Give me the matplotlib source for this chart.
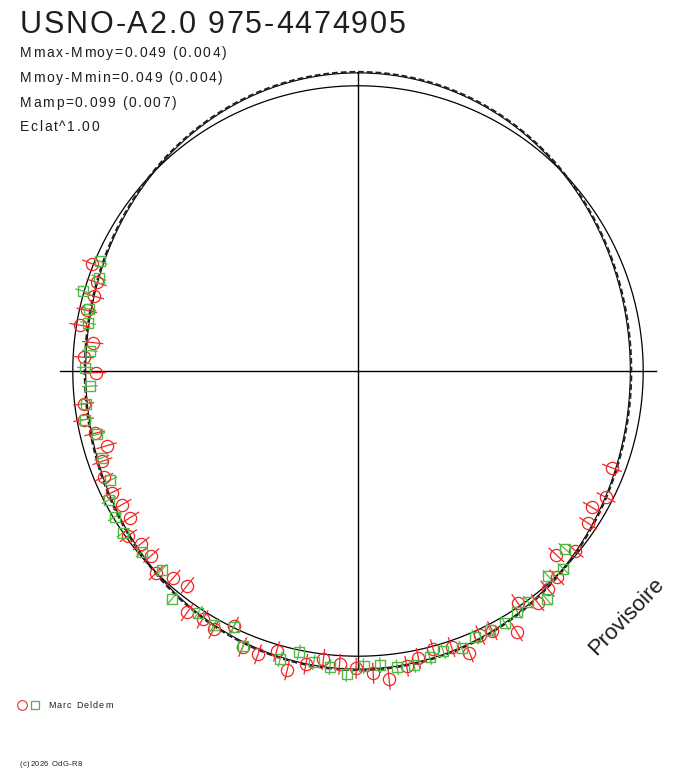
import numpy as np
import matplotlib
matplotlib.use('Agg')
import matplotlib.pyplot as plt
from matplotlib.font_manager import FontProperties

plt.rcParams['font.family'] = ['Liberation Sans', 'DejaVu Sans']

title = 'USNO-A2.0 975-4474905'
info_lines = ['Mmax-Mmoy=0.049 (0.004)', 'Mmoy-Mmin=0.049 (0.004)',
              'Mamp=0.099 (0.007)', 'Eclat^1.00']
observer = 'Marc Deldem'
credit = '(c)2026 OdG-R8'
stamp = 'Provisoire'

# phase (0..1, clockwise from top) and magnitude offset from mean
red_phase = [0.811, 0.802, 0.794, 0.785, 0.776, 0.767, 0.758, 0.749, 0.731, 0.722,
             0.713, 0.704, 0.696, 0.687, 0.677, 0.668, 0.659, 0.651, 0.643, 0.634,
             0.625, 0.616, 0.607, 0.598, 0.589, 0.581, 0.572, 0.563, 0.554, 0.545,
             0.537, 0.528, 0.519, 0.510, 0.501, 0.492, 0.484, 0.474, 0.467, 0.458,
             0.448, 0.440, 0.431, 0.424, 0.413, 0.404, 0.395, 0.386, 0.378, 0.369,
             0.360, 0.343, 0.334, 0.325, 0.308]
red_dmag = [0.006, -0.035, -0.041, -0.028, -0.013, -0.070, -0.040, -0.087, -0.034, -0.025,
            -0.056, -0.087, -0.054, -0.036, -0.040, -0.054, -0.054, -0.010, -0.031, -0.031,
            0.000, -0.030, -0.042, 0.040, 0.030, 0.040, -0.005, 0.053, 0.058, 0.026,
            0.084, 0.048, 0.020, 0.033, 0.046, 0.066, 0.094, 0.053, 0.032, 0.012,
            0.024, 0.067, 0.022, 0.027, 0.078, -0.014, 0.030, 0.013, 0.005, -0.056,
            -0.012, -0.035, -0.054, -0.026, -0.051]
red_err = 0.040

green_phase = [0.814, 0.805, 0.795, 0.786, 0.778, 0.762, 0.752, 0.741, 0.731, 0.722,
               0.712, 0.698, 0.684, 0.674, 0.664, 0.654, 0.639, 0.624, 0.609, 0.593,
               0.582, 0.572, 0.563, 0.542, 0.533, 0.524, 0.515, 0.506, 0.497, 0.488,
               0.479, 0.470, 0.461, 0.453, 0.443, 0.434, 0.425, 0.416, 0.407, 0.399,
               0.390, 0.381, 0.372, 0.363]
green_dmag = [-0.019, -0.037, 0.005, -0.034, -0.042, -0.062, -0.046, -0.063, -0.042, -0.030,
              -0.065, -0.056, -0.054, -0.017, -0.006, 0.000, -0.012, -0.022, 0.033, 0.017,
              0.025, -0.002, 0.048, 0.051, 0.008, 0.036, 0.047, 0.069, 0.038, 0.037,
              0.052, 0.054, 0.037, 0.030, 0.041, 0.021, 0.022, 0.026, 0.014, 0.007,
              0.042, -0.021, 0.000, -0.049]
green_err = 0.030

half_amp = 0.049   # Mmax-Mmoy
r_center = -1.084  # magnitude offset mapped to the centre of the plot
r_outer = 0.060

RED = '#f22424'
GREEN = '#52b845'
INK = '#1e1e1e'

fig = plt.figure(figsize=(6.88, 7.68), dpi=100)
ax = fig.add_axes([57/688, 96/768, 602/688, 602/768], projection='polar')
ax.set_theta_zero_location('N')
ax.set_theta_direction(-1)
ax.set_ylim(r_center, r_outer)
ax.grid(False)
ax.set_xticks([])
ax.set_yticks([])
ax.spines['polar'].set_visible(False)
ax.patch.set_visible(False)

th = np.linspace(0, 2*np.pi, 721)
ax.plot(th, np.zeros_like(th), c='k', lw=0.9)
model = half_amp*np.cos(2*th)
ax.plot(th, model, c='k', lw=0.8)
ax.plot(th, model + 0.004, c='#222222', lw=1.4, ls=(0, (3, 1.5)))

# cross
for a in [0, np.pi/2, np.pi, 3*np.pi/2]:
    ax.plot([a, a], [r_center, 0.05], c='k', lw=1.0)

rp = 2*np.pi*np.array(red_phase)
gp = 2*np.pi*np.array(green_phase)
eb1 = ax.errorbar(rp, red_dmag, yerr=red_err, fmt='o', ms=8.8, mfc='none', mec=RED,
                  mew=0.9, ecolor=RED, elinewidth=0.9, capsize=0)
eb2 = ax.errorbar(gp, green_dmag, yerr=green_err, fmt='s', ms=6.5, mfc='none', mec=GREEN,
                  mew=1.0, ecolor=GREEN, elinewidth=0.9, capsize=0)
for eb in (eb1, eb2):
    for art in eb.get_children():
        art.set_clip_on(False)

# overlay for texts (pixel coordinates)
ov = fig.add_axes([0, 0, 1, 1])
ov.set_xlim(0, 688)
ov.set_ylim(768, 0)
ov.axis('off')
ov.patch.set_visible(False)

renderer = fig.canvas.get_renderer()


def spaced_text(x, y, s, size, gap):
    # text with extra letter spacing, like the original
    prop = FontProperties(family=['Liberation Sans', 'DejaVu Sans'], size=size)
    for i, ch in enumerate(s):
        w = renderer.get_text_width_height_descent(s[:i], prop, ismath=False)[0] if i else 0
        ov.text(x + w + gap*i, y, ch, fontproperties=prop, va='baseline', ha='left', color=INK)


spaced_text(20, 33, title, 22, 1.8)
for i, s in enumerate(info_lines):
    spaced_text(20, 57 + 24.8*i, s, 10, 1.6)

ov.text(626, 617, stamp, fontsize=16, rotation=46, ha='center', va='center', color=INK)

ov.plot([22], [705], 'o', ms=7, mfc='none', mec='#e03030', mew=0.8)
ov.plot([35], [705], 's', ms=5.5, mfc='none', mec=GREEN, mew=0.9)
spaced_text(48, 708, observer, 6.5, 1.1)
spaced_text(20, 766, credit, 5.5, 0.4)

fig.savefig('out.png', dpi=100)
